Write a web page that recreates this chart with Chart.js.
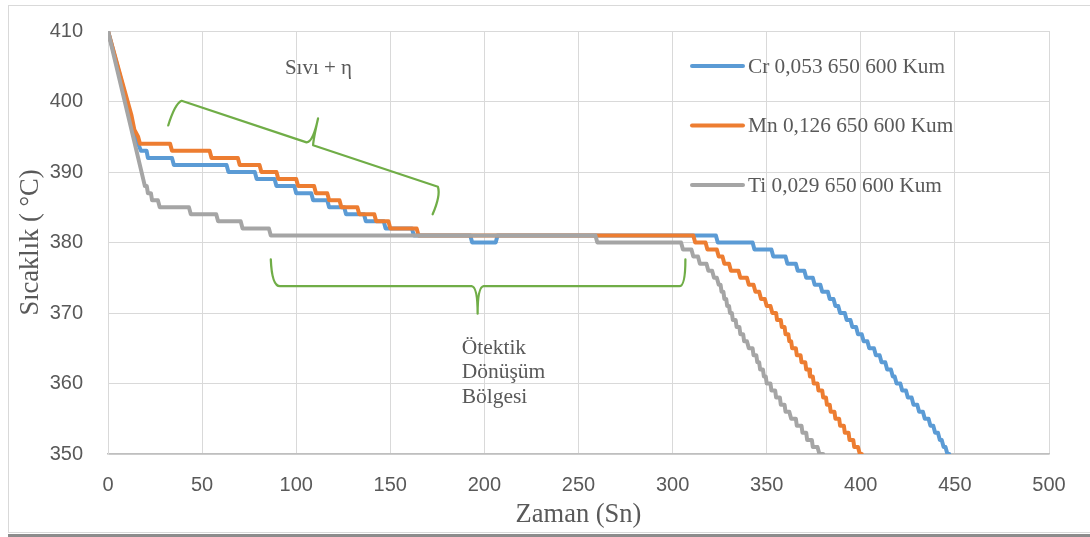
<!DOCTYPE html>
<html>
<head>
<meta charset="utf-8">
<script src="https://cdn.jsdelivr.net/npm/chart.js@4"></script>
<style>
  html, body { margin: 0; padding: 0; background: #ffffff; }
  canvas { display: block; }
</style>
</head>
<body>
<canvas id="chart" width="1090" height="537"></canvas>
<script>
// Cooling curves: temperature (°C) against time (s).
// Each curve = a short lead-in descent followed by plateaus (level, start, end).

const seriesLabels = ['Cr 0,053 650 600 Kum', 'Mn 0,126 650 600 Kum', 'Ti 0,029 650 600 Kum'];

// --- Cr 0,053 ---
const crLeadTime = [0, 12, 14, 16];
const crLeadTemp = [410, 398, 395, 394];
const crLevel = [393, 392, 391, 390, 389, 388, 387, 386, 385, 384, 383, 382, 381, 380, 381, 380, 379, 378, 377, 376,
                 375, 374, 373, 372, 371, 370, 369, 368, 367, 366, 365, 364, 363, 362, 361, 360, 359, 358, 357, 356,
                 355, 354, 353, 352, 351, 350];
const crStart = [17.5, 21.2, 35, 64, 79, 89.5, 100, 109, 117.5, 126.5, 137, 147.5, 162.5, 193.5, 207, 324, 343.5, 353.5, 361, 366.5,
                 371, 375.5, 379.5, 383.5, 386.5, 389, 392.5, 395.5, 398.5, 401.5, 404.5, 408, 411, 414, 417, 419, 422, 425, 428, 431,
                 434, 437, 439.5, 442, 444, 446];
const crEnd   = [20.5, 34, 63, 78, 88.5, 99, 108, 116.5, 125.5, 136, 146.5, 161.5, 192.5, 206, 323, 342.5, 352.5, 360, 365.5, 370,
                 374.5, 378.5, 382.5, 385.5, 388, 391.5, 394.5, 397.5, 400.5, 403.5, 407, 410, 413, 416, 418, 421, 424, 427, 430, 433,
                 436, 438.5, 441, 443, 445, 447];

// --- Mn 0,126 ---
const mnLeadTime = [0, 12.5, 14, 16];
const mnLeadTemp = [410, 398, 396, 395];
const mnLevel = [394, 393, 392, 391, 390, 389, 388, 387, 386, 385, 384, 383, 382, 381, 380, 379, 378, 377, 376, 375,
                 374, 373, 372, 371, 370, 369, 368, 367, 366, 365, 364, 363, 362, 361, 360, 359, 358, 357, 356, 355,
                 354, 353, 352, 351, 350];
const mnStart = [17, 34, 55, 70, 81.5, 90.5, 101, 110.5, 117.5, 124, 133.5, 142.5, 150, 165, 312, 318.5, 324.5, 327.5, 331, 336,
                 340.5, 344, 347, 350, 353, 355.5, 358, 360, 362, 363.5, 366, 368.5, 371, 373, 375, 377.5, 380, 382, 384, 386.5,
                 389, 391.5, 394, 396.5, 399.5];
const mnEnd   = [33, 54, 69, 80.5, 89.5, 100, 109.5, 116.5, 123, 132.5, 141.5, 149, 164, 311, 317.5, 323.5, 326.5, 330, 335, 339.5,
                 343, 346, 349, 352, 355, 357.5, 359.5, 361.5, 363, 365.5, 368, 370.5, 372.5, 374.5, 377, 379.5, 381.5, 383.5, 386, 388.5,
                 391, 393.5, 396, 398.5, 400.5];

// --- Ti 0,029 ---
const tiLeadTime = [0];
const tiLeadTemp = [410];
const tiLevel = [388, 387, 386, 385, 384, 383, 382, 381, 380, 379, 378, 377, 376, 375, 374, 373, 372, 371, 370, 369,
                 368, 367, 366, 365, 364, 363, 362, 361, 360, 359, 358, 357, 356, 355, 354, 353, 352, 351, 350];
const tiStart = [19.6, 21.2, 23.4, 27.5, 44, 58.5, 71.5, 86.5, 260, 305.5, 311, 314.5, 319, 322, 324.5, 326, 327.5, 329, 330.5, 332,
                 334, 336, 338, 340.5, 343, 345, 346.5, 348.5, 350, 352.5, 355, 357.5, 360, 363, 366, 369, 371.5, 374.5, 378];
const tiEnd   = [20.6, 22.8, 26.5, 43, 57.5, 70.5, 85.5, 259, 304.5, 310, 313.5, 318, 321, 323.5, 325.5, 327, 328.5, 330, 331.5, 333.5,
                 335.5, 337.5, 339.5, 342.5, 344.5, 346, 348, 349.5, 352, 354.5, 357, 359.5, 362, 365.5, 368.5, 371, 374, 377, 380];

const seriesColors = ['#5B9BD5', '#ED7D31', '#A5A5A5'];

function buildCurve(leadTime, leadTemp, level, start, end) {
  const pts = leadTime.map((t, i) => ({ x: t, y: leadTemp[i] }));
  level.forEach((v, i) => {
    pts.push({ x: start[i], y: v });
    pts.push({ x: end[i], y: v });
  });
  return pts;
}

// Region annotations (data units): curly braces and their captions
const braceColor = '#70AD47';
const upperBrace = [
  ['M', 32.0, 396.6],
  ['Q', 35.6, 399.7, 39.1, 400.1],
  ['L', 105.5, 394.2],
  ['Q', 109.0, 394.3, 111.6, 397.6],
  ['Q', 109.0, 394.5, 109.0, 393.8],
  ['L', 175.3, 387.9],
  ['Q', 176.8, 386.7, 172.5, 384.0]
];
const lowerBrace = [
  ['M', 86.5, 377.6],
  ['Q', 87.1, 373.8, 91.3, 373.8],
  ['L', 193.2, 373.8],
  ['Q', 196.4, 373.7, 196.4, 369.9],
  ['Q', 196.4, 373.7, 199.6, 373.8],
  ['L', 303.6, 373.8],
  ['Q', 306.8, 373.8, 306.8, 377.6]
];
const captions = [
  { text: ['Sıvı + η'], x: 94.0, y: 404.7, size: 21, gap: 0 },
  { text: ['Ötektik', 'Dönüşüm', 'Bölgesi'], x: 187.9, y: 365.0, size: 21.5, gap: 24.5 }
];

const annotationPlugin = {
  id: 'regionNotes',
  afterDatasetsDraw(chart) {
    const { ctx, scales: { x, y } } = chart;
    const px = v => x.getPixelForValue(v);
    const py = v => y.getPixelForValue(v);
    ctx.save();
    ctx.strokeStyle = braceColor;
    ctx.lineWidth = 2.25;
    ctx.lineJoin = 'round';
    ctx.lineCap = 'round';
    [upperBrace, lowerBrace].forEach(path => {
      ctx.beginPath();
      path.forEach(seg => {
        if (seg[0] === 'M') ctx.moveTo(px(seg[1]), py(seg[2]));
        else if (seg[0] === 'L') ctx.lineTo(px(seg[1]), py(seg[2]));
        else ctx.quadraticCurveTo(px(seg[1]), py(seg[2]), px(seg[3]), py(seg[4]));
      });
      ctx.stroke();
    });
    ctx.fillStyle = '#595959';
    ctx.textAlign = 'left';
    ctx.textBaseline = 'middle';
    captions.forEach(c => {
      ctx.font = c.size + 'px "Liberation Serif"';
      const x0 = px(c.x);
      const y0 = py(c.y);
      c.text.forEach((line, i) => ctx.fillText(line, x0, y0 + i * c.gap));
    });
    ctx.restore();
  }
};

// Legend drawn inside the plot area, upper right
const insideLegend = {
  id: 'insideLegend',
  afterDatasetsDraw(chart) {
    const { ctx, chartArea } = chart;
    const left = chartArea.left + 584;
    const top = chartArea.top + 35;
    ctx.save();
    ctx.font = '21.3px "Liberation Serif"';
    ctx.textBaseline = 'middle';
    ctx.textAlign = 'left';
    chart.data.datasets.forEach((ds, i) => {
      const yy = top + i * 59.5;
      ctx.strokeStyle = ds.borderColor;
      ctx.lineWidth = 4;
      ctx.lineCap = 'round';
      ctx.beginPath();
      ctx.moveTo(left, yy);
      ctx.lineTo(left + 51, yy);
      ctx.stroke();
      ctx.fillStyle = '#595959';
      ctx.fillText(ds.label, left + 56, yy + 1);
    });
    ctx.restore();
  }
};

// White background and the outer frame of the chart
const framePlugin = {
  id: 'frame',
  beforeDraw(chart) {
    const { ctx, width, height } = chart;
    ctx.save();
    ctx.fillStyle = '#ffffff';
    ctx.fillRect(0, 0, width, height);
    ctx.strokeStyle = '#D9D9D9';
    ctx.lineWidth = 1;
    ctx.strokeRect(8.5, 5.5, width + 10, 527);
    ctx.fillStyle = '#8C8C8C';
    ctx.fillRect(8, 534, width, 3);
    ctx.restore();
  }
};

const tickFont = { family: 'Liberation Sans', size: 20 };
const titleFont = { family: 'Liberation Serif', size: 26.5, lineHeight: 1.2 };

new Chart(document.getElementById('chart'), {
  type: 'scatter',
  data: {
    datasets: [
      { label: seriesLabels[0], data: buildCurve(crLeadTime, crLeadTemp, crLevel, crStart, crEnd), borderColor: seriesColors[0], order: 3 },
      { label: seriesLabels[1], data: buildCurve(mnLeadTime, mnLeadTemp, mnLevel, mnStart, mnEnd), borderColor: seriesColors[1], order: 2 },
      { label: seriesLabels[2], data: buildCurve(tiLeadTime, tiLeadTemp, tiLevel, tiStart, tiEnd), borderColor: seriesColors[2], order: 1 }
    ].map(ds => Object.assign(ds, {
      showLine: true, pointRadius: 0, pointHoverRadius: 0, borderWidth: 4,
      tension: 0, borderJoinStyle: 'round', borderCapStyle: 'round', fill: false
    }))
  },
  options: {
    responsive: false,
    animation: false,
    devicePixelRatio: 1,
    layout: { padding: { left: 0, top: 31, right: 41, bottom: 0 } },
    plugins: { legend: { display: false }, tooltip: { enabled: false } },
    scales: {
      x: {
        type: 'linear', min: 0, max: 500,
        ticks: { stepSize: 50, color: '#595959', font: tickFont, padding: 19, maxRotation: 0, autoSkip: false },
        grid: { color: '#D9D9D9', lineWidth: 1, drawTicks: false },
        border: { color: '#BFBFBF', width: 1.5 },
        title: { display: true, text: 'Zaman (Sn)', color: '#595959', font: titleFont, padding: { top: 0, bottom: 6 } },
        afterFit(scale) { scale.height = 83; }
      },
      y: {
        type: 'linear', min: 350, max: 410,
        ticks: { stepSize: 10, color: '#595959', font: tickFont, padding: 25 },
        grid: { color: '#D9D9D9', lineWidth: 1, drawTicks: false },
        border: { color: '#D9D9D9', width: 1 },
        title: { display: true, text: 'Sıcaklık ( °C)', color: '#595959', font: titleFont, padding: { top: 15, bottom: 0 } },
        afterFit(scale) {
          scale.width = 108;
          // the label gap is horizontal only; keep the plot top where the layout padding puts it
          scale.paddingTop = 12;
          scale.paddingBottom = 12;
        }
      }
    }
  },
  plugins: [framePlugin, annotationPlugin, insideLegend]
});
</script>
</body>
</html>
